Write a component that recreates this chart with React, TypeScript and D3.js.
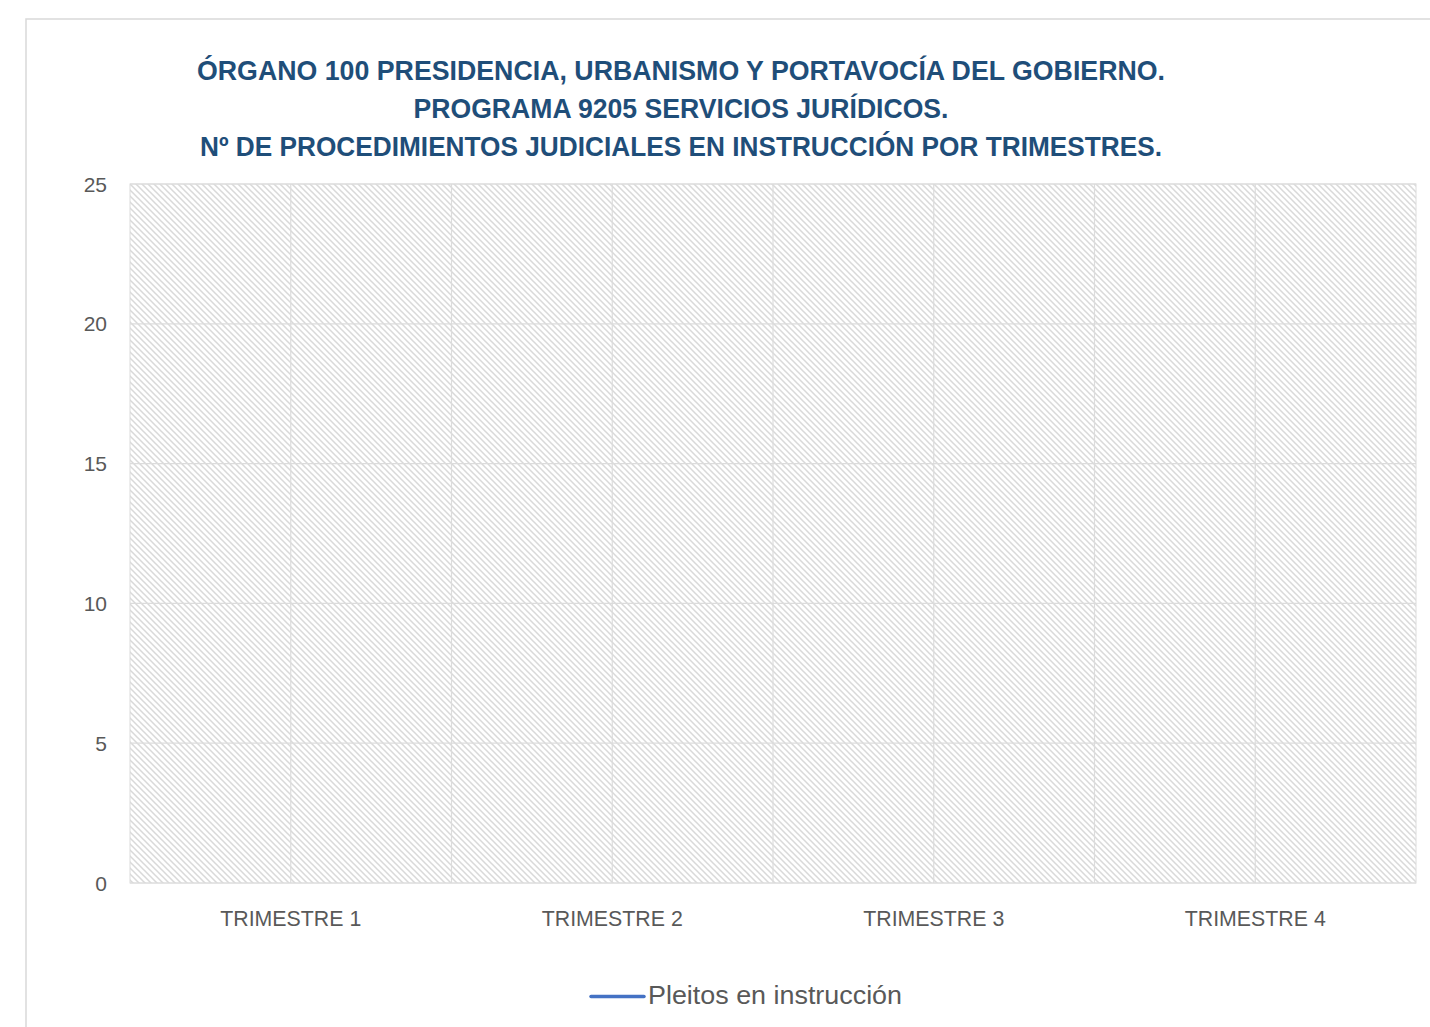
import React from "react";
import * as d3 from "d3";

const titleLines = [
  "ÓRGANO 100 PRESIDENCIA, URBANISMO Y PORTAVOCÍA DEL GOBIERNO.",
  "PROGRAMA 9205 SERVICIOS JURÍDICOS.",
  "Nº DE PROCEDIMIENTOS JUDICIALES EN INSTRUCCIÓN POR TRIMESTRES.",
];
const titleWidths = [968, 535, 962];
const categories = ["TRIMESTRE 1", "TRIMESTRE 2", "TRIMESTRE 3", "TRIMESTRE 4"];
const seriesName = "Pleitos en instrucción";
const seriesValues: (number | null)[] = [null, null, null, null];
const yTicks = [0, 5, 10, 15, 20, 25];

const W = 1430;
const H = 1027;
const plot = { left: 130, right: 1416, top: 184, bottom: 883 };
const textGrey = "#595959";
const gridColor = "#dcdcdc";
const lineColor = "#4472C4";
const titleColor = "#1F4E79";
const font = "'Liberation Sans', Arial, sans-serif";

export default function App() {
  const x = d3.scaleBand<string>().domain(categories).range([plot.left, plot.right]).padding(0);
  const y = d3.scaleLinear().domain([0, 25]).range([plot.bottom, plot.top]);
  const bw = x.bandwidth();

  const vLines: number[] = [];
  categories.forEach((c, i) => {
    vLines.push((x(c) as number) + bw / 2);
    if (i > 0) vLines.push(x(c) as number);
  });

  const line = d3
    .line<number | null>()
    .defined((d) => d != null)
    .x((_, i) => (x(categories[i]) as number) + bw / 2)
    .y((d) => y(d as number));
  const pathD = line(seriesValues) || "";

  return (
    <svg
      width={W}
      height={H}
      style={{ position: "absolute", left: 0, top: 0, background: "#fff" }}
    >
      <defs>
        <pattern id="hatch" patternUnits="userSpaceOnUse" width={6} height={6}>
          <rect width={6} height={6} fill="#ffffff" />
          <path d="M-1,-1 L7,7 M-4,2 L2,8 M2,-4 L8,2" stroke="#d9d9d9" strokeWidth={1.5} />
        </pattern>
      </defs>
      <rect x={26} y={19} width={W} height={H} fill="#fff" stroke="#d9d9d9" strokeWidth={1.5} />

      {titleLines.map((t, i) => (
        <text
          key={i}
          x={681}
          y={80 + i * 38}
          textAnchor="middle"
          fontFamily={font}
          fontWeight="bold"
          fontSize={27.5}
          fill={titleColor}
          textLength={titleWidths[i]}
          lengthAdjust="spacingAndGlyphs"
        >
          {t}
        </text>
      ))}

      <rect
        x={plot.left}
        y={plot.top}
        width={plot.right - plot.left}
        height={plot.bottom - plot.top}
        fill="url(#hatch)"
        stroke={gridColor}
        strokeWidth={1}
      />
      {yTicks.map((t) => (
        <line key={"h" + t} x1={plot.left} x2={plot.right} y1={y(t)} y2={y(t)} stroke={gridColor} strokeWidth={1.2} />
      ))}
      {vLines.map((v, i) => (
        <line key={"v" + i} x1={v} x2={v} y1={plot.top} y2={plot.bottom} stroke={gridColor} strokeWidth={1.2} />
      ))}

      {yTicks.map((t) => (
        <text
          key={"yl" + t}
          x={107}
          y={y(t) + 7.5}
          textAnchor="end"
          fontFamily={font}
          fontSize={21}
          fill={textGrey}
        >
          {t}
        </text>
      ))}
      {categories.map((c) => (
        <text
          key={c}
          x={(x(c) as number) + bw / 2}
          y={926}
          textAnchor="middle"
          fontFamily={font}
          fontSize={22.5}
          fill={textGrey}
          textLength={141}
          lengthAdjust="spacingAndGlyphs"
        >
          {c}
        </text>
      ))}

      <path d={pathD} fill="none" stroke={lineColor} strokeWidth={3.5} />

      <line x1={591} x2={644} y1={996.5} y2={996.5} stroke={lineColor} strokeWidth={3.5} strokeLinecap="round" />
      <text
        x={648}
        y={1004}
        fontFamily={font}
        fontSize={26.5}
        fill={textGrey}
        textLength={254}
        lengthAdjust="spacingAndGlyphs"
      >
        {seriesName}
      </text>
    </svg>
  );
}
